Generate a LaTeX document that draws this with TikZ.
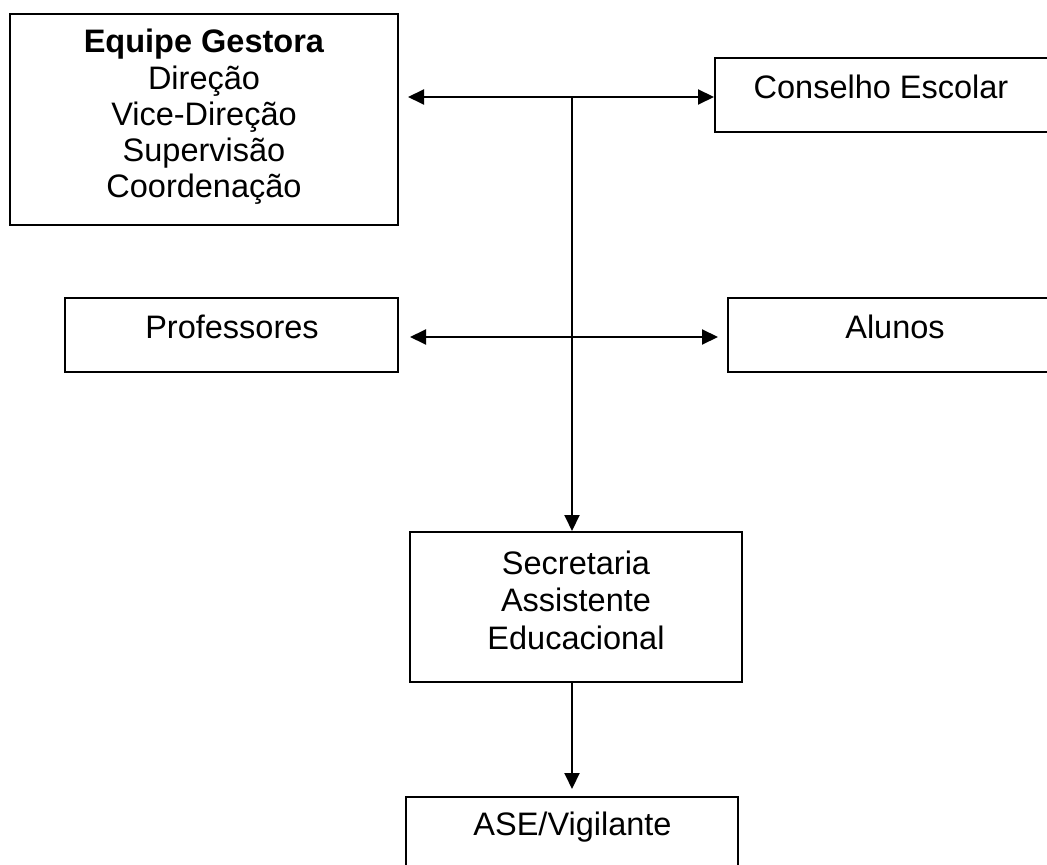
\documentclass[tikz,border=0pt]{standalone}
\usepackage{fontspec}
\setmainfont{Liberation Sans}
\usetikzlibrary{arrows.meta}
\begin{document}
\begin{tikzpicture}[x=0.5pt,y=-0.5pt,
  box/.style={draw,line width=1pt,inner sep=0pt,rectangle},
  lbl/.style={font=\fontsize{16.25}{18.1}\selectfont,inner sep=0pt,align=center},
  conn/.style={line width=1pt},
  tip/.style={-{Triangle[length=8pt,width=7.5pt]}},
  tips/.style={{Triangle[length=8pt,width=7.5pt]}-{Triangle[length=8pt,width=7.5pt]}}]
\useasboundingbox (0,0) rectangle (1047,865);
\clip (0,0) rectangle (1047,865);
% boxes
\node[box,minimum width=194pt,minimum height=105.5pt] (eq) at (204,119.5) {};
\node[box,minimum width=172.5pt,minimum height=37pt] (cons) at (887.5,95) {};
\node[box,minimum width=166.5pt,minimum height=37pt] (prof) at (231.5,335) {};
\node[box,minimum width=167pt,minimum height=37pt] (alu) at (895,335) {};
\node[box,minimum width=166pt,minimum height=75pt] (sec) at (576,607) {};
\node[box,minimum width=166pt,minimum height=41pt] (ase) at (572,838) {};
% texts
\node[lbl] (eqt) at (204,117) {\textbf{Equipe Gestora}\\Direção\\Vice-Direção\\Supervisão\\Coordenação};
\node[lbl,anchor=base] (const) at (881,99) {Conselho Escolar};
\node[lbl,anchor=base] (proft) at (232,339) {Professores};
\node[lbl,anchor=base] (alut) at (895,339) {Alunos};
\node[lbl,font=\fontsize{16.25}{18.75}\selectfont] (sect) at (576,600) {Secretaria\\Assistente\\Educacional};
\node[lbl,anchor=base] (aset) at (572.5,835) {ASE/Vigilante};
% connectors
\coordinate (tl) at (408,97);
\coordinate (tj) at (572,97);
\coordinate (ml) at (410,337);
\coordinate (mr) at (718,337);
\coordinate (bt) at (572,789);
\draw[conn,tips] (tl) -- (tl -| cons.west);
\draw[conn,tip] (tj) -- (tj |- sec.north);
\draw[conn,tips] (ml) -- (mr);
\draw[conn,tip] (bt |- sec.south) -- (bt);
\end{tikzpicture}
\end{document}
